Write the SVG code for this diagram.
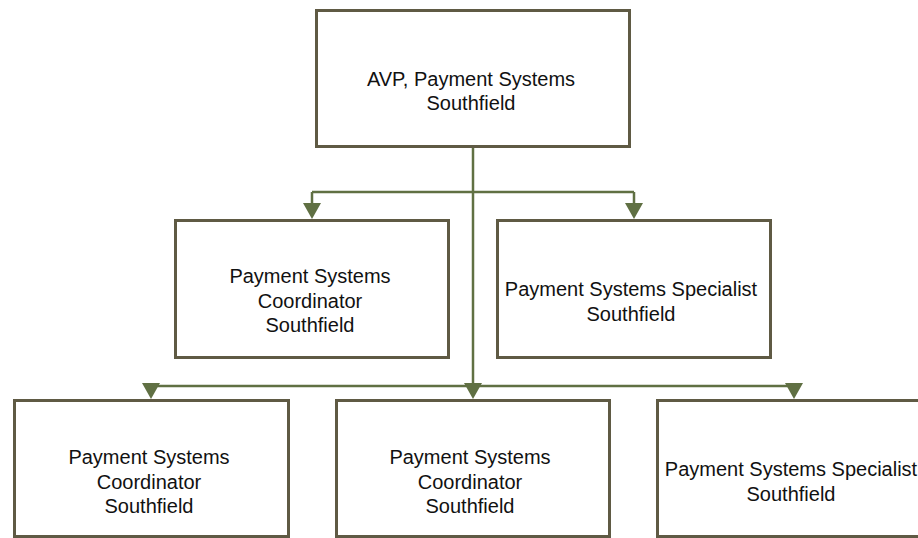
<svg xmlns="http://www.w3.org/2000/svg" width="918" height="538" viewBox="0 0 918 538">
<style>
.box{fill:#fff;stroke:#5f5a44;stroke-width:3}
.t{font-family:"Liberation Sans",Arial,sans-serif;font-size:20px;fill:#111;text-anchor:middle}
.c{fill:none;stroke:#607043;stroke-width:2.5}
.a{fill:#607043;stroke:none}
</style>
<rect width="918" height="538" fill="#fff"/>
<g id="connectors">
<path class="c" d="M473 146V386"/>
<path class="c" d="M312 192H634M312 192V204M634 192V204"/>
<path class="c" d="M151 386H795"/>
<polygon class="a" points="303,203 321,203 312,219"/>
<polygon class="a" points="625,203 643,203 634,219"/>
<polygon class="a" points="142,383 160,383 151,399"/>
<polygon class="a" points="464,383 482,383 473,399"/>
<polygon class="a" points="785,383 803,383 794,399"/>
</g>
<g id="n-avp">
<rect class="box" x="316.5" y="10.5" width="313" height="136"/>
<text class="t" x="471" y="86">AVP, Payment Systems</text>
<text class="t" x="471" y="110">Southfield</text>
</g>
<g id="n-coord1">
<rect class="box" x="175.5" y="220.5" width="273" height="137"/>
<text class="t" x="310" y="283">Payment Systems</text>
<text class="t" x="310" y="308">Coordinator</text>
<text class="t" x="310" y="332">Southfield</text>
</g>
<g id="n-spec1">
<rect class="box" x="497.5" y="220.5" width="273" height="137"/>
<text class="t" x="631" y="296">Payment Systems Specialist</text>
<text class="t" x="631" y="321">Southfield</text>
</g>
<g id="n-coord2">
<rect class="box" x="14.5" y="400.5" width="274" height="136"/>
<text class="t" x="149" y="464">Payment Systems</text>
<text class="t" x="149" y="489">Coordinator</text>
<text class="t" x="149" y="513">Southfield</text>
</g>
<g id="n-coord3">
<rect class="box" x="336.5" y="400.5" width="273" height="136"/>
<text class="t" x="470" y="464">Payment Systems</text>
<text class="t" x="470" y="489">Coordinator</text>
<text class="t" x="470" y="513">Southfield</text>
</g>
<g id="n-spec2">
<rect class="box" x="657.5" y="400.5" width="274" height="136"/>
<text class="t" x="791" y="476">Payment Systems Specialist</text>
<text class="t" x="791" y="501">Southfield</text>
</g>
</svg>
